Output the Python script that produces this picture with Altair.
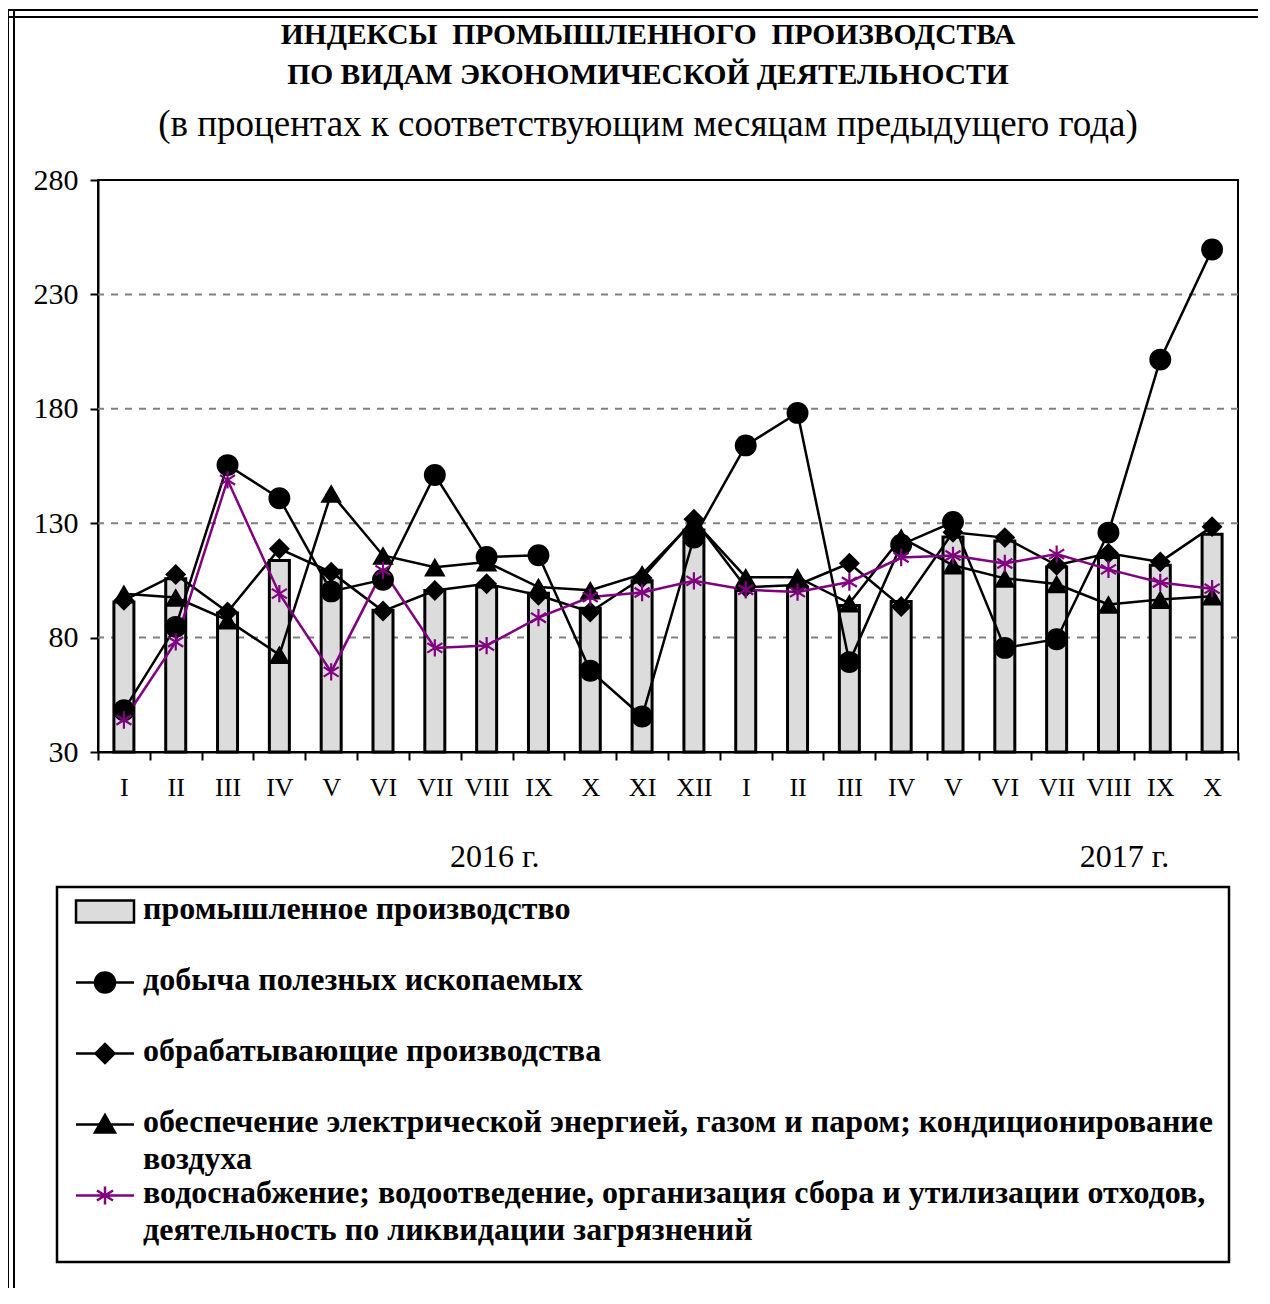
import altair as alt
import pandas as pd

# ---------------- data ----------------
months_2016 = ["I", "II", "III", "IV", "V", "VI", "VII", "VIII", "IX", "X", "XI", "XII"]
months_2017 = ["I", "II", "III", "IV", "V", "VI", "VII", "VIII", "IX", "X"]
categories = [f"{m} 2016" for m in months_2016] + [f"{m} 2017" for m in months_2017]

industry = [95.6, 105.7, 90.8, 113.7, 109.4, 91.9, 100.6, 102.1, 99.4, 92.8, 104.8, 127.0,
            100.6, 102.1, 94.0, 95.8, 124.0, 122.2, 110.9, 115.0, 111.6, 125.2]
mining = [48.3, 84.7, 155.4, 140.9, 100.2, 105.3, 151.1, 115.2, 116.0, 65.5, 45.5, 123.7,
          164.0, 178.2, 69.3, 120.6, 130.5, 75.5, 79.3, 125.9, 201.5, 249.6]
manufacturing = [96.3, 107.6, 91.2, 118.8, 108.6, 91.6, 100.6, 103.5, 98.5, 91.2, 106.0, 131.7,
                 102.0, 103.0, 112.5, 93.6, 126.0, 123.7, 111.6, 116.9, 113.1, 128.5]
electricity = [99.2, 97.5, 87.6, 72.5, 143.0, 115.9, 110.8, 113.0, 102.1, 100.7, 107.7, 131.0,
               106.4, 106.4, 95.0, 123.7, 111.6, 105.9, 103.4, 94.5, 96.6, 98.1]
water = [44.0, 78.1, 148.9, 99.2, 65.0, 109.4, 75.5, 76.5, 88.7, 97.7, 99.7, 104.8,
         100.9, 99.9, 104.3, 115.0, 115.9, 112.4, 116.5, 109.8, 104.1, 101.4]

series_names = [
    "промышленное производство",
    "добыча полезных ископаемых",
    "обрабатывающие производства",
    "обеспечение электрической энергией, газом и паром; кондиционирование|воздуха",
    "водоснабжение; водоотведение, организация сбора и утилизации отходов,|деятельность по ликвидации загрязнений",
]
series_values = [industry, mining, manufacturing, electricity, water]

title_lines = ["ИНДЕКСЫ\u00a0\u00a0ПРОМЫШЛЕННОГО\u00a0\u00a0ПРОИЗВОДСТВА",
               "ПО ВИДАМ ЭКОНОМИЧЕСКОЙ ДЕЯТЕЛЬНОСТИ"]
subtitle_text = "(в процентах к соответствующим месяцам предыдущего года)"
year_labels = ["2016 г.", "2017 г."]
y_ticks = [30, 80, 130, 180, 230, 280]
grid_values = [80, 130, 180, 230]

rows = []
for name, vals in zip(series_names, series_values):
    for cat, v in zip(categories, vals):
        rows.append({"series": name, "cat": cat, "value": v})
df = pd.DataFrame(rows)

# ---------------- styles ----------------
FONT = "Liberation Serif"
PURPLE = "#800080"
W, H = 1140, 572

x_enc = alt.X(
    "cat:N",
    sort=categories,
    scale=alt.Scale(type="band", domain=categories, paddingInner=0, paddingOuter=0),
    axis=alt.Axis(
        labelExpr="isString(datum.value) ? split(datum.value, ' ')[0] : ''",
        tickBand="extent",
        tickSize=8, tickWidth=2, tickColor="black",
        domainColor="black", domainWidth=2,
        labelFont=FONT, labelFontSize=26, labelColor="black",
        labelPadding=14, labelAngle=0, grid=False, title=None,
    ),
    title=None,
)
y_scale = alt.Scale(domain=[30, 280], zero=False, nice=False)
y_axis = alt.Axis(
    values=y_ticks, tickSize=8, tickWidth=2, tickColor="black",
    domainColor="black", domainWidth=2,
    labelFont=FONT, labelFontSize=30, labelColor="black", labelPadding=12,
    grid=False, title=None,
)
y_enc = alt.Y("value:Q", scale=y_scale, axis=y_axis, title=None)

base = alt.Chart(df)


def sel(i):
    return alt.FieldEqualPredicate(field="series", equal=series_names[i])


grid = alt.Chart(pd.DataFrame({"g": grid_values})).mark_rule(
    color="#808080", strokeWidth=2, strokeDash=[7, 7]
).encode(y=alt.Y("g:Q", scale=y_scale, axis=y_axis, title=None))

bars = base.transform_filter(sel(0)).mark_bar(
    size=20, fill="#dcdcdc", stroke="black", strokeWidth=3
).encode(x=x_enc, y=y_enc, y2=alt.datum(30))

ASTERISK = "M0,-1V1M-0.87,-0.55L0.87,0.55M-0.87,0.55L0.87,-0.55"
line_styles = [
    (1, "black", "circle", 480, True),
    (2, "black", "diamond", 440, True),
    (3, "black", "triangle-up", 460, True),
    (4, PURPLE, ASTERISK, 300, False),
]
layers = [grid, bars]
for i, col, shp, sz, filled in line_styles:
    layers.append(
        base.transform_filter(sel(i)).mark_line(color=col, strokeWidth=2.5).encode(x=x_enc, y=y_enc)
    )
for i, col, shp, sz, filled in line_styles:
    if filled:
        pt = base.transform_filter(sel(i)).mark_point(
            shape=shp, size=sz, filled=True, color=col, opacity=1)
    else:
        pt = base.transform_filter(sel(i)).mark_point(
            shape=shp, size=sz, filled=False, stroke=col, strokeWidth=2.2, opacity=1)
    layers.append(pt.encode(x=x_enc, y=y_enc))

# year annotations under the month axis
years = alt.Chart(pd.DataFrame({"cat": ["VIII 2016", "VIII 2017"], "label": year_labels}))
for k, dx in enumerate([8, 16]):
    layers.append(
        years.transform_filter(alt.FieldEqualPredicate(field="label", equal=year_labels[k]))
        .mark_text(font=FONT, fontSize=32, color="black", dx=dx, baseline="middle")
        .encode(x=x_enc, y=alt.value(677), text="label:N")
    )

# legend (built from the scales' domain)
dy = -0.75
line_part = f"M-2.9,{dy}H2.9"
legend_shapes = [
    f"M-2.9,{-1.1 + dy}H2.9V{1.1 + dy}H-2.9Z",
    f"{line_part}M1,{dy}A1,1,0,1,1,-1,{dy}A1,1,0,1,1,1,{dy}Z",
    f"{line_part}M0,{-0.95 + dy}L0.95,{dy}L0,{0.95 + dy}L-0.95,{dy}Z",
    f"{line_part}M0,{-0.95 + dy}L1,{0.8 + dy}L-1,{0.8 + dy}Z",
    f"{line_part}M0,{-0.9 + dy}V{0.9 + dy}M-0.8,{-0.5 + dy}L0.8,{0.5 + dy}M-0.8,{0.5 + dy}L0.8,{-0.5 + dy}",
]
legend_fills = ["#dcdcdc", "black", "black", "black", "transparent"]
legend_strokes = ["black", "black", "black", "black", PURPLE]

leg = alt.Legend(
    title=None, orient="none", legendX=-41, legendY=707, direction="vertical",
    labelExpr="split(datum.label, '|')",
    labelFont=FONT, labelFontSize=32, labelFontWeight="bold", labelColor="black",
    labelLimit=1300, labelBaseline="alphabetic",
    symbolSize=400, symbolStrokeWidth=2.5, symbolOpacity=1,
    symbolOffset=16, labelOffset=22,
    padding=16, rowPadding=2, gridAlign="all",
    strokeColor="black", fillColor="white",
)
legend_layer = (
    alt.Chart(pd.DataFrame({"series": series_names}))
    .transform_filter("false")
    .mark_point(filled=True, strokeWidth=2.5, opacity=1)
    .encode(
        shape=alt.Shape("series:N", scale=alt.Scale(domain=series_names, range=legend_shapes), legend=leg),
        fill=alt.Fill("series:N", scale=alt.Scale(domain=series_names, range=legend_fills), legend=leg),
        stroke=alt.Stroke("series:N", scale=alt.Scale(domain=series_names, range=legend_strokes), legend=leg),
    )
)
layers.append(legend_layer)

# page frame (double line at left and top)
one = alt.Chart(pd.DataFrame({"k": [0]}))
for xv in [-90, -84]:
    layers.append(one.mark_rule(color="black", strokeWidth=2).encode(
        x=alt.value(xv), y=alt.value(-170), y2=alt.value(1110)))
for yv in [-170, -163]:
    layers.append(one.mark_rule(color="black", strokeWidth=2).encode(
        x=alt.value(-90), x2=alt.value(1162), y=alt.value(yv)))

chart = alt.layer(*layers).properties(
    width=W, height=H,
    autosize=alt.AutoSizeParams(type="none"),
    padding={"left": 90, "top": 172, "right": 20, "bottom": 536},
    title=alt.TitleParams(
        text=title_lines, subtitle=subtitle_text,
        font=FONT, fontSize=29.5, fontWeight="bold", color="black", lineHeight=40,
        subtitleFont=FONT, subtitleFontSize=37, subtitleFontWeight="normal",
        subtitleColor="black", subtitlePadding=17,
        anchor="middle", frame="group", dx=-20, dy=165, offset=30,
    ),
).resolve_scale(
    shape="shared", fill="shared", stroke="shared"
).configure(
    background="white",
    style={"guide-label": {"lineHeight": 37}},
    view=alt.ViewConfig(stroke="black", strokeWidth=2),
    legend=alt.LegendConfig(strokeWidth=2.5),
)

chart.save("out.html", embed_options={"renderer": "svg", "actions": False})
